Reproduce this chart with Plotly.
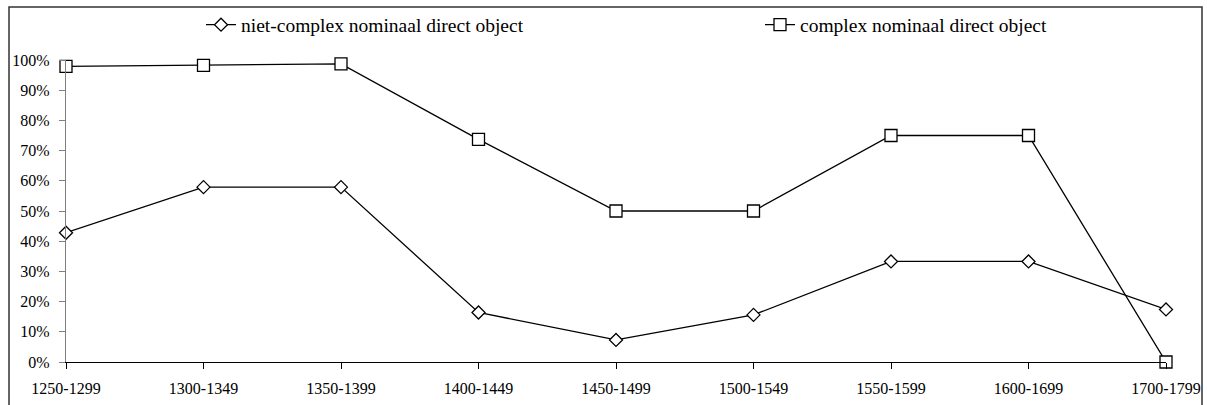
import plotly.graph_objects as go

categories = ["1250-1299", "1300-1349", "1350-1399", "1400-1449", "1450-1499",
              "1500-1549", "1550-1599", "1600-1699", "1700-1799"]
niet_complex = [0.428, 0.579, 0.579, 0.164, 0.073, 0.156, 0.333, 0.333, 0.174]
complex_do = [0.979, 0.982, 0.987, 0.737, 0.50, 0.50, 0.75, 0.75, 0.0]
y_ticks = [i / 10 for i in range(11)]
y_labels = [f"{i * 10}%" for i in range(11)]

FONT = "Liberation Serif"

L, R, T, B = 66, 1166, 60, 362
W, H = 1207, 405
pw, ph = R - L, B - T

def px_x(p):
    return (p - L) / pw

def px_y(p):
    return (B - p) / ph

fig = go.Figure()
fig.add_trace(go.Scatter(
    x=categories, y=niet_complex, mode="lines+markers",
    name="niet-complex nominaal direct object",
    line=dict(color="black", width=1.3),
    marker=dict(symbol="diamond", size=10, color="white",
                line=dict(color="black", width=1.3)),
    cliponaxis=False, legend="legend",
))
fig.add_trace(go.Scatter(
    x=categories, y=complex_do, mode="lines+markers",
    name="complex nominaal direct object",
    line=dict(color="black", width=1.3),
    marker=dict(symbol="square", size=12, color="white",
                line=dict(color="black", width=1.3)),
    cliponaxis=False, legend="legend2",
))

fig.add_shape(type="rect", xref="paper", yref="paper",
              x0=px_x(9), x1=px_x(1202), y0=px_y(420), y1=px_y(7),
              line=dict(color="#333333", width=1.5), layer="below")

legend_common = dict(xanchor="left", yanchor="middle", bgcolor="rgba(0,0,0,0)",
                     font=dict(family=FONT, size=19.5, color="black"), itemwidth=30)

fig.update_layout(
    width=W, height=H,
    margin=dict(l=L, r=W - R, t=T, b=H - B, pad=0, autoexpand=False),
    paper_bgcolor="white", plot_bgcolor="white",
    font=dict(family=FONT, size=16, color="black"),
    showlegend=True,
    legend=dict(x=px_x(201), y=px_y(25), **legend_common),
    legend2=dict(x=px_x(760), y=px_y(25), **legend_common),
    xaxis=dict(type="category", range=[0, 8], showgrid=False, zeroline=False,
               showline=True, linecolor="black", linewidth=1.3, automargin=False,
               ticks="outside", ticklen=6, tickcolor="black", tickwidth=1,
               ticklabelstandoff=6,
               tickfont=dict(family=FONT, size=16, color="black")),
    yaxis=dict(range=[0, 1], tickvals=y_ticks, ticktext=y_labels, showgrid=False,
               zeroline=False, showline=True, linecolor="#808080", linewidth=1.3,
               automargin=False,
               ticks="outside", ticklen=6, tickcolor="#808080", tickwidth=1,
               ticklabelstandoff=6,
               tickfont=dict(family=FONT, size=16, color="black")),
)

fig.write_html("out.html", config={"displayModeBar": False},
               post_script="document.body.style.margin='0';")
